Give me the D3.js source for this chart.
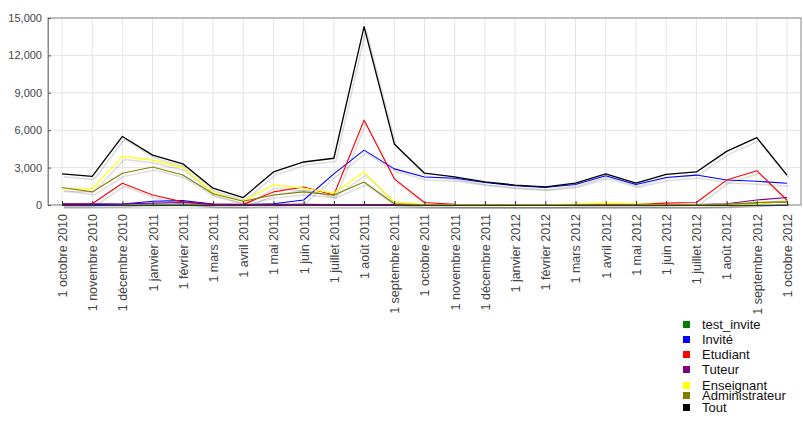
<!DOCTYPE html>
<html>
<head>
<meta charset="UTF-8">
<title>Connexions par profil</title>
<script src="https://cdnjs.cloudflare.com/ajax/libs/d3/7.8.5/d3.min.js"></script>
<style>
body { margin:0; background:#fff; }
text { font-family:"Liberation Sans", Arial, sans-serif; }
.xax .tick text { fill:#444; font-size:12.5px; }
.yax .tick text { fill:#444; font-size:11px; }
.legend text { font-size:13px; fill:#111; }
</style>
</head>
<body>
<div id="chart"></div>
<script>
var months = ["1 octobre 2010","1 novembre 2010","1 décembre 2010","1 janvier 2011","1 février 2011","1 mars 2011",
  "1 avril 2011","1 mai 2011","1 juin 2011","1 juillet 2011","1 août 2011","1 septembre 2011",
  "1 octobre 2011","1 novembre 2011","1 décembre 2011","1 janvier 2012","1 février 2012","1 mars 2012",
  "1 avril 2012","1 mai 2012","1 juin 2012","1 juillet 2012","1 août 2012","1 septembre 2012","1 octobre 2012"];

var seriesNames = ["test_invite","Invité","Etudiant","Tuteur","Enseignant","Administrateur","Tout"];
var seriesColors = ["#008000","#0000ff","#ff0000","#800080","#ffff00","#808000","#000000"];

var testInvite = [0,0,0,0,0,0,0,0,0,0,0,0,0,0,0,0,0,0,0,0,0,0,30,150,250];
var invite = [30,30,80,300,350,80,30,100,400,2500,4400,2900,2250,2150,1800,1550,1400,1650,2350,1650,2200,2400,2000,1900,1750];
var etudiant = [80,100,1750,800,250,50,50,1050,1450,800,6800,2100,200,50,30,20,20,30,30,50,150,200,2000,2750,400];
var tuteur = [100,100,80,150,200,50,30,50,50,30,30,30,30,30,30,30,20,20,20,20,20,30,100,400,600];
var enseignant = [1300,1300,3900,3600,3000,1000,300,1600,1350,950,2650,250,30,20,20,20,20,80,150,100,20,20,50,100,300];
var administrateur = [1400,1050,2550,3050,2400,900,300,800,1050,800,1850,100,20,20,20,20,20,20,20,20,20,20,50,200,250];
var tout = [2500,2300,5500,4000,3300,1350,600,2650,3450,3750,14300,4900,2550,2250,1850,1600,1450,1750,2500,1750,2450,2650,4300,5400,2400];

var yTicks = [0,3000,6000,9000,12000,15000];

var allSeries = [testInvite, invite, etudiant, tuteur, enseignant, administrateur, tout];

var width = 803, height = 423;
var plotL = 48, plotR = 801, plotT = 18, plotB = 205;

var svg = d3.select("#chart").append("svg").attr("width", width).attr("height", height);

var x = d3.scaleLinear().domain([0, months.length - 1]).range([62, 787]);
var y = d3.scaleLinear().domain([0, 15000]).range([plotB, plotT]);

// grid
svg.append("g").selectAll("line").data(months).enter().append("line")
  .attr("x1", function(d,i){return x(i);}).attr("x2", function(d,i){return x(i);})
  .attr("y1", plotT).attr("y2", plotB)
  .style("stroke", "#e4e4e4").style("stroke-width", 1);
svg.append("g").selectAll("line").data(yTicks).enter().append("line")
  .attr("x1", plotL).attr("x2", plotR)
  .attr("y1", function(d){return y(d);}).attr("y2", function(d){return y(d);})
  .style("stroke", "#e4e4e4").style("stroke-width", 1);

// frame
svg.append("rect").attr("x", plotL).attr("y", plotT).attr("width", plotR - plotL).attr("height", plotB - plotT)
  .style("fill", "none").style("stroke", "#888").style("stroke-width", 1);

// lines, with a soft shadow
var line = d3.line().x(function(d,i){return x(i);}).y(function(d){return y(d);});

allSeries.forEach(function(s){
  svg.append("path").attr("d", line(s))
    .attr("transform", "translate(2,3)")
    .style("fill", "none").style("stroke", "#000").style("stroke-opacity", 0.13).style("stroke-width", 1.6);
});
allSeries.forEach(function(s, k){
  svg.append("path").attr("d", line(s))
    .style("fill", "none").style("stroke", seriesColors[k])
    .style("stroke-width", k == 6 ? 1.3 : 1.1)
    .style("stroke-linejoin", "round");
});

// axes
var xAxis = d3.axisBottom(x).tickValues(d3.range(months.length))
  .tickFormat(function(i){return months[i];}).tickSize(-4).tickPadding(6);
var gx = svg.append("g").attr("class", "xax").attr("transform", "translate(0," + plotB + ")").call(xAxis);
gx.select(".domain").style("stroke", "#333");
gx.selectAll(".tick line").style("stroke", "#333");
gx.selectAll(".tick text")
  .attr("transform", "rotate(-90)")
  .attr("x", -9).attr("y", 0).attr("dy", "0.35em")
  .style("text-anchor", "end");

var yAxis = d3.axisLeft(y).tickValues(yTicks).tickFormat(d3.format(",")).tickSize(-3).tickPadding(6);
var gy = svg.append("g").attr("class", "yax").attr("transform", "translate(" + plotL + ",0)").call(yAxis);
gy.select(".domain").style("stroke", "#888");
gy.selectAll(".tick line").style("stroke", "#555");

// legend
var legendY = [324, 339, 354, 369, 385, 395, 407];
var lg = svg.append("g").attr("class", "legend");
seriesNames.forEach(function(n, k){
  lg.append("rect").attr("x", 683).attr("y", legendY[k] - 3).attr("width", 7).attr("height", 7)
    .style("fill", seriesColors[k]);
  lg.append("text").attr("x", 702).attr("y", legendY[k] + 5).text(n);
});
</script>
</body>
</html>
